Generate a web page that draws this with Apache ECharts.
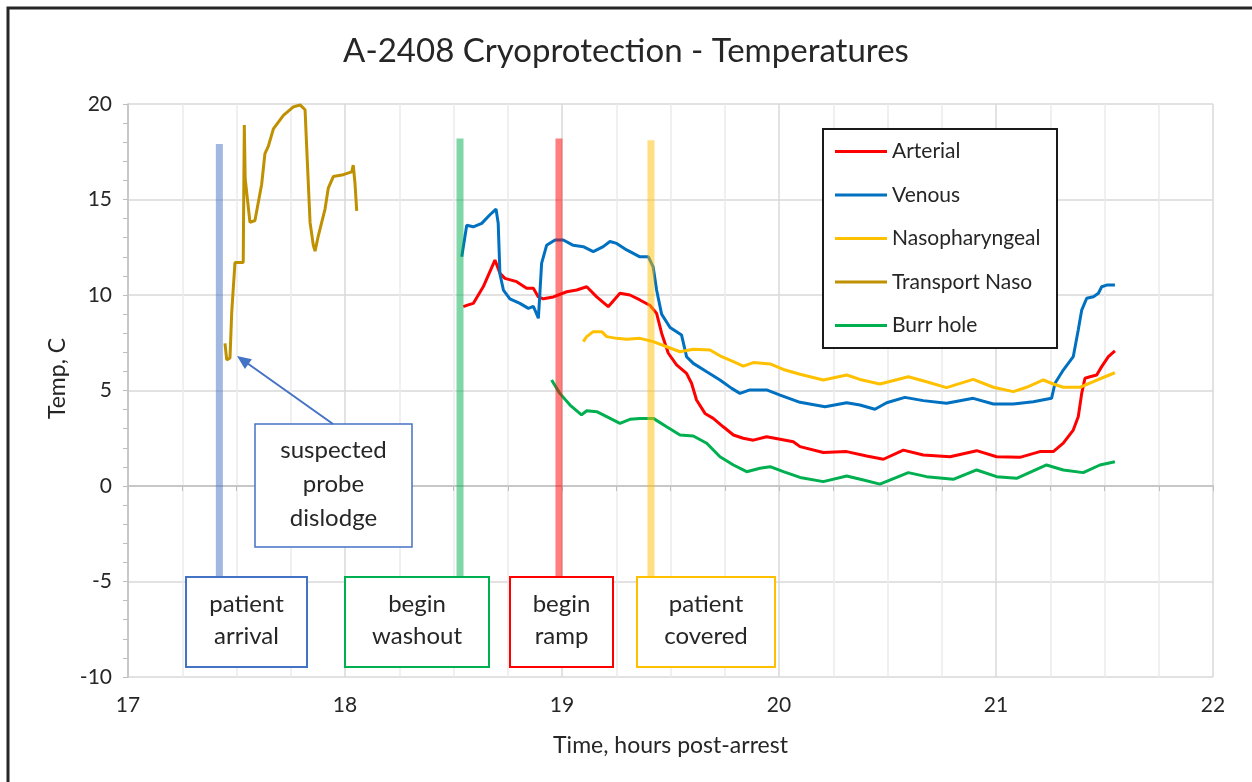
<!DOCTYPE html>
<html>
<head>
<meta charset="utf-8">
<script src="https://cdn.jsdelivr.net/npm/echarts@6/dist/echarts.min.js"></script>
<style>html,body{margin:0;padding:0;background:#fff;}#chart{width:1252px;height:782px;}</style>
</head>
<body>
<div id="chart"></div>
<script>
// ---- Data ----
const titleText = 'A-2408 Cryoprotection - Temperatures';
const seriesNames = ['Arterial', 'Venous', 'Nasopharyngeal', 'Transport Naso', 'Burr hole'];
const seriesColors = ['#ff0000', '#0070c0', '#ffc000', '#bf9000', '#00b050'];

const transportNaso = [[17.447,7.47],[17.455,6.6],[17.47,6.7],[17.478,9.1],[17.493,11.7],[17.531,11.7],[17.536,18.9],[17.54,16.1],[17.562,13.8],[17.585,13.9],[17.616,15.8],[17.631,17.4],[17.647,17.8],[17.67,18.7],[17.716,19.4],[17.762,19.85],[17.793,19.95],[17.816,19.7],[17.823,17.85],[17.839,13.8],[17.854,12.6],[17.862,12.3],[17.877,13.1],[17.908,14.5],[17.923,15.6],[17.946,16.2],[17.992,16.3],[18.031,16.45],[18.038,16.8],[18.046,15.85],[18.054,14.4]];

const venous = [[18.538,12.0],[18.561,13.65],[18.591,13.57],[18.63,13.75],[18.668,14.2],[18.696,14.5],[18.706,13.75],[18.714,11.1],[18.73,10.26],[18.76,9.8],[18.806,9.56],[18.845,9.3],[18.868,9.4],[18.876,9.2],[18.891,8.78],[18.899,10.26],[18.906,11.66],[18.929,12.6],[18.968,12.88],[19.006,12.88],[19.052,12.6],[19.098,12.53],[19.144,12.27],[19.19,12.53],[19.221,12.8],[19.252,12.7],[19.298,12.36],[19.359,12.0],[19.398,12.0],[19.42,11.48],[19.436,10.26],[19.459,9.0],[19.498,8.3],[19.551,7.9],[19.574,6.77],[19.605,6.42],[19.667,5.98],[19.728,5.55],[19.782,5.11],[19.82,4.85],[19.866,5.03],[19.943,5.03],[20.005,4.76],[20.097,4.38],[20.212,4.15],[20.312,4.36],[20.373,4.24],[20.442,4.02],[20.496,4.36],[20.58,4.64],[20.665,4.47],[20.772,4.33],[20.895,4.59],[20.988,4.29],[21.08,4.29],[21.172,4.41],[21.256,4.59],[21.272,5.38],[21.31,6.07],[21.356,6.77],[21.379,8.17],[21.395,9.21],[21.418,9.83],[21.449,9.91],[21.472,10.09],[21.487,10.43],[21.51,10.52],[21.548,10.52]];

const arterial = [[18.545,9.39],[18.568,9.48],[18.591,9.56],[18.637,10.43],[18.691,11.83],[18.714,11.14],[18.737,10.87],[18.791,10.7],[18.837,10.35],[18.868,10.35],[18.891,9.9],[18.914,9.8],[18.96,9.9],[19.022,10.17],[19.068,10.26],[19.114,10.43],[19.16,9.9],[19.213,9.39],[19.267,10.09],[19.313,10.0],[19.359,9.74],[19.406,9.45],[19.436,9.04],[19.459,8.0],[19.49,6.95],[19.528,6.34],[19.574,5.9],[19.597,5.38],[19.62,4.5],[19.659,3.8],[19.697,3.54],[19.743,3.1],[19.79,2.67],[19.835,2.5],[19.882,2.4],[19.943,2.58],[20.005,2.45],[20.066,2.32],[20.097,2.06],[20.204,1.75],[20.312,1.8],[20.404,1.57],[20.481,1.4],[20.573,1.88],[20.665,1.62],[20.788,1.53],[20.911,1.85],[21.003,1.53],[21.11,1.5],[21.202,1.8],[21.264,1.8],[21.31,2.24],[21.356,2.93],[21.379,3.63],[21.395,4.85],[21.41,5.64],[21.433,5.72],[21.464,5.81],[21.487,6.25],[21.518,6.77],[21.548,7.08]];

const nasopharyngeal = [[19.098,7.56],[19.114,7.82],[19.144,8.08],[19.183,8.08],[19.206,7.82],[19.252,7.73],[19.298,7.68],[19.359,7.73],[19.421,7.56],[19.482,7.29],[19.544,7.03],[19.605,7.16],[19.682,7.12],[19.736,6.77],[19.79,6.51],[19.835,6.28],[19.882,6.46],[19.959,6.39],[20.02,6.1],[20.097,5.85],[20.204,5.55],[20.312,5.81],[20.373,5.58],[20.465,5.34],[20.596,5.72],[20.68,5.46],[20.772,5.15],[20.895,5.58],[20.988,5.17],[21.08,4.94],[21.141,5.17],[21.218,5.55],[21.264,5.34],[21.31,5.17],[21.387,5.17],[21.449,5.46],[21.502,5.72],[21.548,5.93]];

const burrHole = [[18.952,5.55],[18.99,4.85],[19.037,4.24],[19.09,3.72],[19.114,3.94],[19.16,3.89],[19.206,3.63],[19.267,3.28],[19.313,3.49],[19.359,3.54],[19.421,3.54],[19.482,3.1],[19.544,2.67],[19.605,2.62],[19.667,2.24],[19.728,1.53],[19.79,1.1],[19.851,0.75],[19.912,0.93],[19.959,1.01],[20.02,0.75],[20.097,0.45],[20.204,0.23],[20.312,0.52],[20.389,0.31],[20.465,0.1],[20.596,0.7],[20.68,0.49],[20.803,0.35],[20.911,0.84],[21.003,0.49],[21.095,0.4],[21.233,1.1],[21.31,0.84],[21.402,0.7],[21.479,1.1],[21.548,1.27]];

// event markers: time (h), top of marker (C)
const eventNames = ['patient\narrival', 'begin\nwashout', 'begin\nramp', 'patient\ncovered'];
const eventTimes = [17.421, 18.530, 18.986, 19.410];
const eventTops = [17.9, 18.2, 18.2, 18.1];
const eventColors = ['#4472c4', '#00b050', '#ff0000', '#ffc000'];
const eventBottom = -5;

const xTicks = [17, 18, 19, 20, 21, 22];
const yTicks = [-10, -5, 0, 5, 10, 15, 20];

// ---- Chart ----
const FONT = 'Lato';
const chart = echarts.init(document.getElementById('chart'), null, {renderer: 'canvas'});

const dataSets = [arterial, venous, nasopharyngeal, transportNaso, burrHole];
const series = [];
dataSets.forEach((d, i) => {
  series.push({
    name: seriesNames[i], type: 'line', data: d, symbol: 'none', z: 2,
    lineStyle: {color: seriesColors[i], width: 3}, itemStyle: {color: seriesColors[i]},
    animation: false
  });
});
eventTimes.forEach((t, i) => {
  series.push({
    name: 'evt' + i, type: 'line', symbol: 'none', z: 3, silent: true,
    data: [[t, eventTops[i]], [t, eventBottom]],
    lineStyle: {color: eventColors[i], width: 7, opacity: 0.5, cap: 'butt'},
    animation: false
  });
});

// annotation boxes (pixel layout)
const boxRects = [[186,577,121,90],[345,577,144,90],[510,577,103,90],[637,577,138,90]];
const graphics = [];
graphics.push({type:'rect', shape:{x:8,y:8,width:1400,height:1000}, style:{fill:'none', stroke:'#262626', lineWidth:3}, z:50, silent:true});
graphics.push({type:'rect', shape:{x:823,y:129,width:234,height:219}, style:{fill:'#fff', stroke:'#1a1a1a', lineWidth:2}, z:15});
boxRects.forEach((r, i) => {
  graphics.push({type:'rect', shape:{x:r[0],y:r[1],width:r[2],height:r[3]}, style:{fill:'#fff', stroke:eventColors[i], lineWidth:2}, z:10});
  graphics.push({type:'text', x:r[0]+r[2]/2, y:r[1]+r[3]/2-2, style:{text:eventNames[i], fill:'#262626', font:'24px ' + FONT, textAlign:'center', textVerticalAlign:'middle', lineHeight:32}, z:11});
});
// suspected probe dislodge
graphics.push({type:'rect', shape:{x:255,y:424,width:157,height:123}, style:{fill:'#fff', stroke:'#4472c4', lineWidth:1.5}, z:10});
graphics.push({type:'text', x:333.5, y:484, style:{text:'suspected\nprobe\ndislodge', fill:'#262626', font:'24px ' + FONT, textAlign:'center', textVerticalAlign:'middle', lineHeight:34}, z:11});
graphics.push({type:'line', shape:{x1:333,y1:424,x2:247,y2:363}, style:{stroke:'#4472c4', lineWidth:2}, z:10});
graphics.push({type:'polygon', shape:{points:[[237,356],[251.9,359.2],[244.9,369.0]]}, style:{fill:'#4472c4'}, z:10});

chart.setOption({
  animation: false,
  backgroundColor: '#fff',
  title: {text: titleText, left: 'center', top: 30, textStyle: {fontFamily: FONT, fontSize: 33, fontWeight: 'normal', color: '#262626'}},
  legend: {
    data: seriesNames, orient: 'vertical', left: 835, top: 141, padding: 0, z: 20,
    icon: 'rect', itemWidth: 52, itemHeight: 3, itemGap: 22.5,
    textStyle: {fontFamily: FONT, fontSize: 21, color: '#262626', lineHeight: 20}
  },
  grid: {left: 128, right: 39, top: 104, bottom: 105},
  xAxis: {
    type: 'value', min: 17, max: 22, interval: 1,
    name: 'Time, hours post-arrest', nameLocation: 'middle', nameGap: 57,
    nameTextStyle: {fontFamily: FONT, fontSize: 23, color: '#262626'},
    axisLine: {show: true, lineStyle: {color: '#bfbfbf', width: 1.5}},
    axisTick: {show: true, length: 5, lineStyle: {color: '#bfbfbf'}},
    minorTick: {show: true, splitNumber: 4, length: 5, lineStyle: {color: '#bfbfbf'}},
    splitLine: {show: true, lineStyle: {color: '#d9d9d9', width: 1.5}},
    minorSplitLine: {show: true, lineStyle: {color: '#ececec', width: 1.5}},
    axisLabel: {fontFamily: FONT, fontSize: 21, color: '#262626', margin: 18,
      formatter: v => xTicks.includes(v) ? String(v) : ''}
  },
  yAxis: {
    type: 'value', min: -10, max: 20, interval: 5,
    name: 'Temp, C', nameLocation: 'middle', nameGap: 58, nameRotate: 90,
    nameTextStyle: {fontFamily: FONT, fontSize: 23, color: '#262626', padding: [0, 0, 0, 24]},
    axisLine: {show: true, lineStyle: {color: '#bfbfbf', width: 1.5}},
    axisTick: {show: true, length: 5, lineStyle: {color: '#bfbfbf'}},
    minorTick: {show: true, splitNumber: 5, length: 5, lineStyle: {color: '#bfbfbf'}},
    splitLine: {show: true, lineStyle: {color: '#d9d9d9', width: 1.5}},
    axisLabel: {fontFamily: FONT, fontSize: 21, color: '#262626', margin: 16,
      formatter: v => yTicks.includes(v) ? String(v) : ''}
  },
  series: series,
  graphic: {elements: graphics}
});
</script>
</body>
</html>
